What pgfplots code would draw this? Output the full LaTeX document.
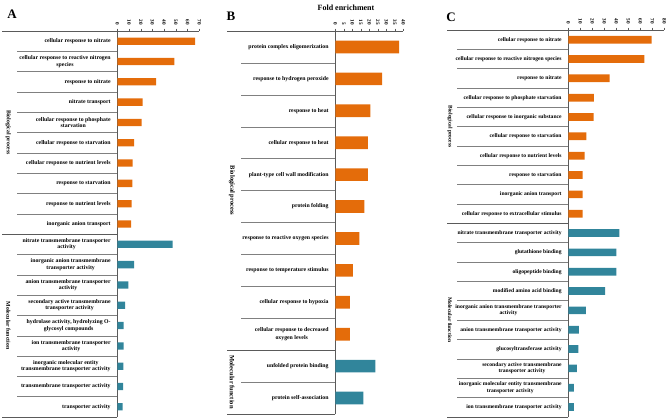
\documentclass[border=0pt]{standalone}
\usepackage{fontspec}
\setmainfont{Liberation Serif}
\usepackage{pgfplots}
\pgfplotsset{compat=1.18}
\definecolor{bporange}{RGB}{228,108,10}
\definecolor{mfteal}{RGB}{49,133,155}
\definecolor{sepgray}{RGB}{128,128,128}
\definecolor{axgray}{RGB}{90,90,90}

\pgfplotsset{
  panel/.style={
    xbar, scale only axis, clip=false,
    y dir=reverse,
    axis x line*=top, axis y line*=left,
    axis line style={axgray},
    xmin=0, xtick distance=10,
    tick align=outside, major tick length=2.5pt,
    x tick style={axgray},
    y tick style={draw=none},
    bar shift=0pt,
    /pgf/number format/assume math mode=true,
    xticklabel style={font=\fontsize{5.2}{5.2}\selectfont\bfseries, rotate=-90, anchor=east},
    yticklabel style={align=center, anchor=east, inner sep=1pt, xshift=-3pt},
  },
}

\begin{document}
\begin{tikzpicture}
\useasboundingbox (0,0) rectangle (669pt,-420pt);

\node[font=\fontsize{13}{13}\selectfont\bfseries] at (12pt,-14.5pt) {A};
\node[font=\fontsize{13}{13}\selectfont\bfseries] at (231pt,-16pt) {B};
\node[font=\fontsize{13}{13}\selectfont\bfseries] at (451pt,-17pt) {C};
\node[font=\fontsize{8}{8}\selectfont\bfseries] at (346pt,-8pt) {Fold enrichment};

% ---------------- A ----------------
\begin{axis}[panel,
  at={(117.3pt,-31pt)}, anchor=north west,
  width=82pt, height=386pt,
  xmax=70, ymin=-0.5, ymax=18.5,
  bar width=7.3pt,
  ytick={0,...,18},
  yticklabel style={font=\fontsize{5.8}{6.4}\selectfont\bfseries},
  yticklabels={
    cellular response to nitrate,
    {cellular response to reactive nitrogen\\species},
    response to nitrate,
    nitrate transport,
    {cellular response to phosphate\\starvation},
    cellular response to starvation,
    cellular response to nutrient levels,
    response to starvation,
    response to nutrient levels,
    inorganic anion transport,
    {nitrate transmembrane transporter\\activity},
    {inorganic anion transmembrane\\transporter activity},
    {anion transmembrane transporter\\activity},
    {secondary active transmembrane\\transporter activity},
    {hydrolase activity, hydrolyzing O-\\glycosyl compounds},
    {ion transmembrane transporter\\activity},
    {inorganic molecular entity\\transmembrane transporter activity},
    transmembrane transporter activity,
    transporter activity},
]
\addplot[fill=bporange, draw=none] coordinates {
  (66.4,0) (48.7,1) (33.1,2) (21.7,3) (20.8,4)
  (14.3,5) (13.1,6) (12.8,7) (12.3,8) (11.7,9)};
\addplot[fill=mfteal, draw=none] coordinates {
  (47.3,10) (14.3,11) (9.4,12) (6.6,13) (5.5,14)
  (5.5,15) (5.1,16) (4.9,17) (4.6,18)};
\pgfplotsinvokeforeach{0,...,17}{\draw[sepgray] (axis cs:0,#1.5) -- ([xshift=-100pt]axis cs:0,#1.5);}
\pgfplotsinvokeforeach{-0.5,9.5,18.5}{\draw[axgray] (axis cs:0,#1) -- ([xshift=-115pt]axis cs:0,#1);}
\node[rotate=-90, font=\fontsize{5.8}{5.8}\selectfont\bfseries] at ([xshift=-109pt]axis cs:0,4.5) {Biological process};
\node[rotate=-90, font=\fontsize{5.8}{5.8}\selectfont\bfseries] at ([xshift=-109pt]axis cs:0,14) {Molecular function};
\end{axis}

% ---------------- B ----------------
\begin{axis}[panel,
  at={(335.3pt,-31pt)}, anchor=north west,
  width=68pt, height=383pt,
  xmax=40, xtick distance=5, ymin=-0.5, ymax=11.5,
  bar width=12.7pt,
  ytick={0,...,11},
  yticklabel style={font=\fontsize{5.8}{7.2}\selectfont\bfseries},
  yticklabels={
    protein complex oligomerization,
    response to hydrogen peroxide,
    response to heat,
    cellular response to heat,
    plant-type cell wall modification,
    protein folding,
    response to reactive oxygen species,
    response to temperature stimulus,
    cellular response to hypoxia,
    {cellular response to decreased\\oxygen levels},
    unfolded protein binding,
    protein self-association},
]
\addplot[fill=bporange, draw=none] coordinates {
  (37.5,0) (27.6,1) (20.6,2) (19.2,3) (19.2,4)
  (17.1,5) (14.1,6) (10.4,7) (8.6,8) (8.6,9)};
\addplot[fill=mfteal, draw=none] coordinates {
  (23.5,10) (16.5,11)};
\pgfplotsinvokeforeach{0,...,10}{\draw[sepgray] (axis cs:0,#1.5) -- ([xshift=-94pt]axis cs:0,#1.5);}
\pgfplotsinvokeforeach{-0.5,9.5,11.5}{\draw[axgray] (axis cs:0,#1) -- ([xshift=-108pt]axis cs:0,#1);}
\node[rotate=-90, font=\fontsize{6.5}{6.5}\selectfont\bfseries] at ([xshift=-103.3pt]axis cs:0,4.5) {Biological process};
\node[rotate=-90, font=\fontsize{6.5}{6.5}\selectfont\bfseries] at ([xshift=-103.3pt]axis cs:0,10.5) {Molecular function};
\end{axis}

% ---------------- C ----------------
\begin{axis}[panel,
  at={(568.3pt,-30pt)}, anchor=north west,
  width=96pt, height=386.7pt,
  xmax=80, ymin=-0.5, ymax=19.5,
  bar width=7.7pt,
  ytick={0,...,19},
  yticklabel style={font=\fontsize{5.6}{6.2}\selectfont\bfseries},
  yticklabels={
    cellular response to nitrate,
    cellular response to reactive nitrogen species,
    response to nitrate,
    cellular response to phosphate starvation,
    cellular response to inorganic substance,
    cellular response to starvation,
    cellular response to nutrient levels,
    response to starvation,
    inorganic anion transport,
    cellular response to extracellular stimulus,
    nitrate transmembrane transporter activity,
    glutathione binding,
    oligopeptide binding,
    modified amino acid binding,
    {inorganic anion transmembrane transporter\\activity},
    anion transmembrane transporter activity,
    glucosyltransferase activity,
    {secondary active transmembrane\\transporter activity},
    {inorganic molecular entity transmembrane\\transporter activity},
    ion transmembrane transporter activity},
]
\addplot[fill=bporange, draw=none] coordinates {
  (69.5,0) (63.3,1) (34.5,2) (21.4,3) (21.1,4)
  (15.0,5) (13.6,6) (12.0,7) (12.0,8) (12.0,9)};
\addplot[fill=mfteal, draw=none] coordinates {
  (42.5,10) (40.0,11) (40.0,12) (30.6,13) (14.7,14)
  (8.9,15) (8.3,16) (7.2,17) (4.7,18) (4.7,19)};
\pgfplotsinvokeforeach{0,...,18}{\draw[sepgray] (axis cs:0,#1.5) -- ([xshift=-111pt]axis cs:0,#1.5);}
\pgfplotsinvokeforeach{-0.5,9.5,19.5}{\draw[axgray] (axis cs:0,#1) -- ([xshift=-121pt]axis cs:0,#1);}
\node[rotate=-90, font=\fontsize{5.5}{5.5}\selectfont\bfseries] at ([xshift=-118.3pt]axis cs:0,4.5) {Biological process};
\node[rotate=-90, font=\fontsize{5.5}{5.5}\selectfont\bfseries] at ([xshift=-118.3pt]axis cs:0,14.5) {Molecular function};
\end{axis}
\end{tikzpicture}
\end{document}
